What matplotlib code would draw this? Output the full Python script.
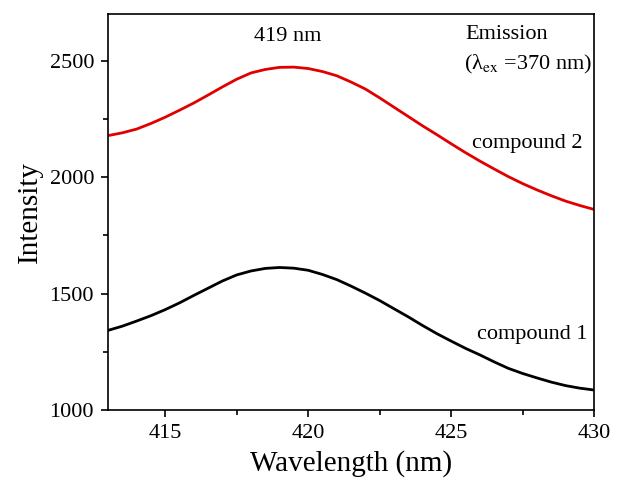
import matplotlib
matplotlib.use("Agg")
import matplotlib.pyplot as plt
from matplotlib.ticker import MultipleLocator

plt.rcParams['font.family'] = ['Liberation Serif', 'DejaVu Serif']
plt.rcParams['mathtext.fontset'] = 'stix'

wavelength = [413, 413.5, 414, 414.5, 415, 415.5, 416, 416.5, 417, 417.5, 418, 418.5,
              419, 419.5, 420, 420.5, 421, 421.5, 422, 422.5, 423, 423.5, 424, 424.5,
              425, 425.5, 426, 426.5, 427, 427.5, 428, 428.5, 429, 429.5, 430]
compound2 = [2178, 2190, 2206, 2230, 2257, 2287, 2318, 2352, 2387, 2420, 2447, 2462,
             2471, 2472, 2466, 2453, 2435, 2408, 2378, 2340, 2300, 2260, 2220, 2182,
             2143, 2105, 2069, 2035, 2002, 1972, 1945, 1920, 1897, 1878, 1861]
compound1 = [1342, 1360, 1382, 1405, 1431, 1460, 1492, 1523, 1554, 1580, 1597, 1608,
             1612, 1609, 1600, 1582, 1560, 1532, 1502, 1470, 1435, 1400, 1363, 1328,
             1296, 1265, 1237, 1207, 1179, 1157, 1138, 1120, 1105, 1094, 1086]

fig = plt.figure(figsize=(6.17, 4.83), dpi=100)
ax = fig.add_axes([0.175, 0.151, 0.788, 0.820])

ax.plot(wavelength, compound2, color='#e00000', lw=2)
ax.plot(wavelength, compound1, color='black', lw=2)

ax.set_xlim(413, 430)
ax.set_ylim(1000, 2700)
ax.xaxis.set_major_locator(MultipleLocator(5))
ax.xaxis.set_minor_locator(MultipleLocator(2.5))
ax.yaxis.set_major_locator(MultipleLocator(500))
ax.yaxis.set_minor_locator(MultipleLocator(250))
ax.tick_params(which='major', direction='out', length=5, width=1.2, labelsize=16, pad=5)
ax.tick_params(which='minor', direction='out', length=3.5, width=1.2)
ax.tick_params(top=False, right=False)
for s in ax.spines.values():
    s.set_linewidth(1.2)

ax.set_xlabel('Wavelength (nm)', fontsize=21, labelpad=5)
ax.set_ylabel('Intensity', fontsize=21, labelpad=5)

ax.text(419.29, 2605, '419 nm', fontsize=16, ha='center', va='center')
ax.text(425.5, 2614, 'Emission', fontsize=16, ha='left', va='center')
ax.text(425.45, 2484, '(λ$_{\\mathrm{ex}}$ =370 nm)', fontsize=16, ha='left', va='center')
ax.text(425.73, 2145, 'compound 2', fontsize=16, ha='left', va='center')
ax.text(425.92, 1323, 'compound 1', fontsize=16, ha='left', va='center')

fig.savefig('out.png', dpi=100)
